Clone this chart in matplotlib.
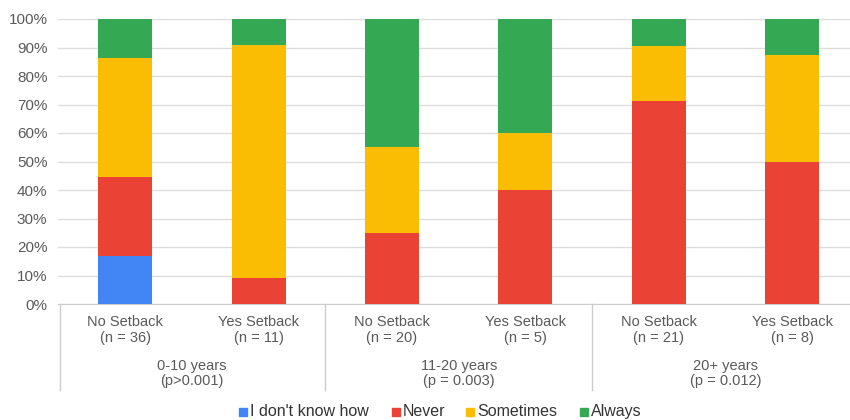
import matplotlib
matplotlib.use('Agg')
import matplotlib.pyplot as plt
from matplotlib.patches import Rectangle
import numpy as np

plt.rcParams['font.family'] = ['Liberation Sans', 'DejaVu Sans']

bar_labels = ['No Setback\n(n = 36)', 'Yes Setback\n(n = 11)',
              'No Setback\n(n = 20)', 'Yes Setback\n(n = 5)',
              'No Setback\n(n = 21)', 'Yes Setback\n(n = 8)']
group_labels = ['0-10 years\n(p>0.001)', '11-20 years\n(p = 0.003)', '20+ years\n(p = 0.012)']

series_names = ["I don't know how", 'Never', 'Sometimes', 'Always']
dont_know = [16.7, 0, 0, 0, 0, 0]
never = [27.8, 9.1, 25.0, 40.0, 71.4, 50.0]
sometimes = [41.7, 81.8, 30.0, 20.0, 19.0, 37.5]
always = [13.9, 9.1, 45.0, 40.0, 9.5, 12.5]
colors = ['#4285F4', '#EA4335', '#FBBC04', '#34A853']

W, H = 850, 420
fig = plt.figure(figsize=(W / 100, H / 100), dpi=100)
ax = fig.add_axes([58.5 / W, 1 - 304 / H, (W - 58.5) / W, (304 - 19) / H])

x = np.arange(len(bar_labels))
bottom = np.zeros(len(x))
for name, vals, c in zip(series_names, [dont_know, never, sometimes, always], colors):
    ax.bar(x, vals, width=0.405, bottom=bottom, color=c, label=name, zorder=3)
    bottom += np.array(vals)

ax.set_xlim(-0.5, (W - 58.5) / 133.4 - 0.5)
ax.set_ylim(0, 100)
ax.set_yticks(range(0, 101, 10))
ax.set_yticklabels([f'{v}%' for v in range(0, 101, 10)], fontsize=11, color='#5a5a5a')
ax.yaxis.grid(True, color='#dddddd', linewidth=1, zorder=0)
ax.tick_params(axis='y', length=0, pad=8)
ax.set_xticks([])
for s in ['top', 'right', 'left']:
    ax.spines[s].set_visible(False)
ax.spines['bottom'].set_color('#cccccc')

trans = ax.get_xaxis_transform()
ax_h = (304 - 19)
def yfrac(py):
    return -(py - 304) / ax_h

for xi, lab in zip(x, bar_labels):
    ax.text(xi, yfrac(330), lab, transform=trans, ha='center', va='center',
            fontsize=10.5, color='#5a5a5a', linespacing=1.1, clip_on=False)
for gi, lab in enumerate(group_labels):
    ax.text(2 * gi + 0.5, yfrac(373.5), lab, transform=trans, ha='center', va='center',
            fontsize=10.5, color='#5a5a5a', linespacing=1.1, clip_on=False)
for sx in [-0.49, 1.5, 3.5]:
    ax.plot([sx, sx], [0, yfrac(390)], transform=trans, color='#cccccc', linewidth=1, clip_on=False)

# legend, laid out by hand so the baselines line up
legend_x = [239.5, 391.5, 466, 579.5]
for lx, name, c in zip(legend_x, series_names, colors):
    fig.add_artist(Rectangle((lx / W, 1 - 415.5 / H), 8 / W, 8 / H, color=c,
                             transform=fig.transFigure))
    fig.text((lx + 11) / W, 1 - 416 / H, name, ha='left', va='baseline',
             fontsize=11.5, color='#333333')

fig.savefig('out.png', dpi=100)
